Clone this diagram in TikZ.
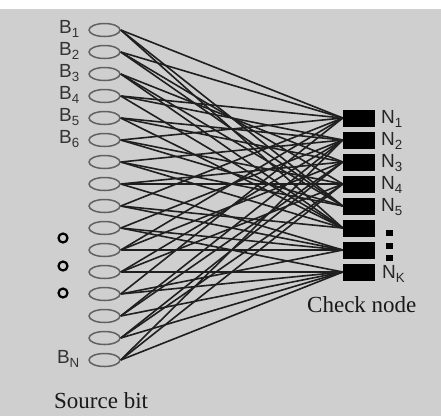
\documentclass[tikz,border=0pt]{standalone}
\usepackage{fontspec}
\usetikzlibrary{shapes.geometric}
\setmainfont{Liberation Serif}
\newfontfamily\labfont{Liberation Sans}
\begin{document}
\begin{tikzpicture}[x=1pt,y=-1pt,
  srcnode/.style={draw=black!62,line width=1.5pt,ellipse,minimum width=31pt,minimum height=13pt,inner sep=0pt},
  chknode/.style={fill=black,draw=black,rectangle,minimum width=31pt,minimum height=16pt,inner sep=0pt},
  blab/.style={anchor=east,inner sep=0pt,font=\labfont\fontsize{19}{20}\selectfont,text=black!80},
  nlab/.style={anchor=west,inner sep=0pt,font=\labfont\fontsize{19}{20}\selectfont,text=black!85},
  linkline/.style={draw=black!88,line width=1.6pt},
  ring/.style={draw=black,line width=2.2pt,circle,minimum size=9pt,inner sep=0pt},
  dotsq/.style={fill=black,rectangle,minimum width=7pt,minimum height=6pt,inner sep=0pt},
  captext/.style={inner sep=0pt,font=\fontsize{23}{24}\selectfont,text=black!90}]
\useasboundingbox (0,0) rectangle (441,416);
\fill[white] (0,0) rectangle (441,9);
\fill[black!19] (0,9) rectangle (441,416);
% source nodes
\foreach \i in {1,...,16}{
  \node[srcnode] (s\i) at (104.5,{30+22*(\i-1)}) {};
}
% check nodes
\foreach \j in {1,...,8}{
  \node[chknode] (c\j) at (358.5,{118+22*(\j-1)}) {};
}
% edges
\foreach \s/\c in {1/1,1/5,1/6, 2/1,2/4,2/5, 3/3,3/5,3/6, 4/1,4/2,4/6,
                   5/2,5/3,5/6, 6/1,6/4,6/5, 7/2,7/5,7/6, 8/3,8/4,8/7,
                   9/1,9/6,9/7, 10/2,10/7,10/8, 11/3,11/7,11/1, 12/2,12/8,12/4,
                   13/1,13/7,13/8, 14/3,14/8,14/2, 15/4,15/8,15/3, 16/4,16/8,16/2}{
  \draw[linkline] (s\s.east) -- (c\c.west);
}
% source labels
\foreach \i in {1,...,6}{
  \node[blab] (bl\i) at (80,{29+22*(\i-1)}) {B\textsubscript{\i}};
}
\node[blab] (bln) at (80,359) {B\textsubscript{N}};
% ellipsis rings
\node[ring] (r1) at (63,238) {};
\node[ring] (r2) at (63,266) {};
\node[ring] (r3) at (63,293) {};
% check labels
\foreach \j in {1,...,5}{
  \node[nlab] (nl\j) at (381,{119+22*(\j-1)}) {N\textsubscript{\j}};
}
\node[nlab] (nlk) at (382,274) {N\textsubscript{K}};
\node[dotsq] (d1) at (389,233) {};
\node[dotsq] (d2) at (389,246) {};
\node[dotsq] (d3) at (389,258) {};
% captions
\node[captext,anchor=west] (cn) at (307,305) {Check node};
\node[captext,anchor=west] (sb) at (54,401) {Source bit};
\end{tikzpicture}
\end{document}
